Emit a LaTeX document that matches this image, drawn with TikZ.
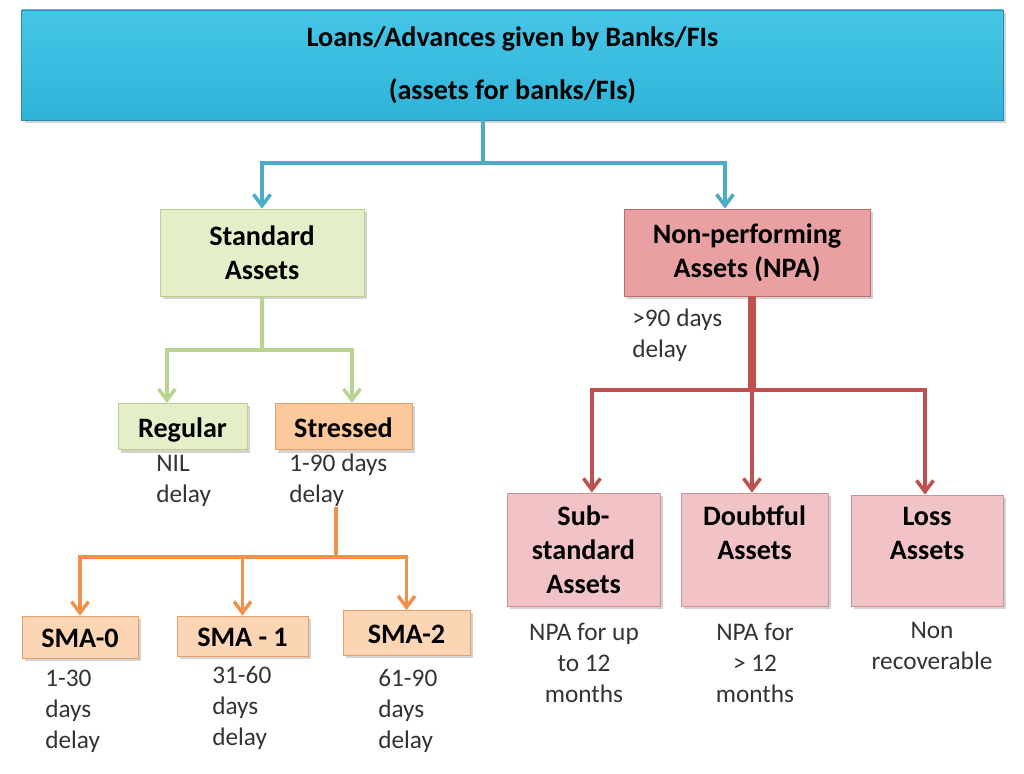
\documentclass[tikz,border=0pt]{standalone}
\usepackage{fontspec}
\setmainfont{Carlito}
\usetikzlibrary{arrows.meta,shadows}
\definecolor{topblue}{HTML}{2FB3D8}
\definecolor{topbluelight}{HTML}{45C6E8}
\definecolor{topedge}{HTML}{2A8CAA}
\definecolor{bluelink}{HTML}{4BACC6}
\definecolor{stdgreen}{HTML}{E4EFC9}
\definecolor{stdedge}{HTML}{B9CF8A}
\definecolor{greenlink}{HTML}{B8D48E}
\definecolor{npared}{HTML}{E8A0A2}
\definecolor{npaedge}{HTML}{C06A6C}
\definecolor{subpink}{HTML}{F2C3C6}
\definecolor{subedge}{HTML}{CC9296}
\definecolor{redlink}{HTML}{C0504D}
\definecolor{stressorange}{HTML}{FBC99B}
\definecolor{smaorange}{HTML}{FCD6B4}
\definecolor{orangeedge}{HTML}{E3A06A}
\definecolor{orangelink}{HTML}{F0904A}
\definecolor{notegray}{HTML}{333333}

\begin{document}
\begin{tikzpicture}[x=0.025cm,y=-0.025cm,
    box/.style={draw, rectangle, align=center, inner sep=0pt,
      font=\bfseries\fontsize{20}{24}\selectfont,
      drop shadow={opacity=0.35,shadow xshift=2pt,shadow yshift=-2pt}},
    oneline/.style={text height=1.6em, text depth=0.1em},
    note/.style={inner sep=0pt, text=notegray, font=\fontsize{18}{22}\selectfont},
    tip/.style={-{Straight Barb[length=8pt,width=12pt]}},
    bluelink/.style={draw=bluelink, line width=2.5pt},
    greenlink/.style={draw=greenlink, line width=2.5pt},
    orangelink/.style={draw=orangelink, line width=2.5pt},
    redlink/.style={draw=redlink, line width=2.5pt}]
        \useasboundingbox (0,0) rectangle (1024,774);
        % boxes
        \node[box, draw=topedge, top color=topbluelight, bottom color=topblue,
              minimum width=24.53cm, minimum height=2.75cm,
              font=\bfseries\fontsize{20}{38}\selectfont]
              (loans) at (512.5,65) {Loans/Advances given by Banks/FIs\\(assets for banks/FIs)};
        \node[box, draw=stdedge, fill=stdgreen, minimum width=5.1cm, minimum height=2.18cm]
              (std) at (262,252.5) {Standard\\Assets};
        \node[box, draw=npaedge, fill=npared, minimum width=6.15cm, minimum height=2.18cm]
              (npa) at (747,252.5) {Non-performing\\Assets (NPA)};
        \node[box, oneline, draw=stdedge, fill=stdgreen, minimum width=3.23cm, minimum height=1.16cm]
              (regular) at (182.5,426.5) {Regular};
        \node[box, oneline, draw=orangeedge, fill=stressorange, minimum width=3.43cm, minimum height=1.16cm]
              (stressed) at (343.5,426.5) {Stressed};
        \node[box, oneline, draw=orangeedge, fill=smaorange, minimum width=2.9cm, minimum height=1.05cm]
              (sma0) at (80,637) {SMA-0};
        \node[box, oneline, draw=orangeedge, fill=smaorange, minimum width=3.28cm, minimum height=1cm]
              (sma1) at (242.5,636) {SMA - 1};
        \node[box, oneline, draw=orangeedge, fill=smaorange, minimum width=3.18cm, minimum height=1.13cm]
              (sma2) at (406.5,633) {SMA-2};
        \node[box, draw=subedge, fill=subpink, minimum width=3.83cm, minimum height=2.83cm]
              (sub) at (583.5,549.5) {Sub-\\standard\\Assets};
        \node[box, draw=subedge, fill=subpink, minimum width=3.68cm, minimum height=2.83cm]
              (doubt) at (754.5,549.5) {Doubtful\\Assets\\~};
        \node[box, draw=subedge, fill=subpink, minimum width=3.8cm, minimum height=2.78cm]
              (loss) at (927,550.5) {Loss\\Assets\\~};
        % notes
        \node[note, anchor=west, align=left] (npanote) at (632,335) {>90 days\\delay};
        \node[note, anchor=west, align=left] (regnote) at (156,480.5) {NIL\\delay};
        \node[note, anchor=west, align=left] (stressnote) at (289,480.5) {1-90 days\\delay};
        \node[note, anchor=west, align=left] (sma0note) at (45,711) {1-30\\days\\delay};
        \node[note, anchor=west, align=left] (sma1note) at (212,708) {31-60\\days\\delay};
        \node[note, anchor=west, align=left] (sma2note) at (378,711) {61-90\\days\\delay};
        \node[note, align=center] (subnote) at (584,663) {NPA for up\\to 12\\months};
        \node[note, align=center] (doubtnote) at (755,663) {NPA for\\> 12\\months};
        \node[note, align=center] (lossnote) at (932,645.5) {Non\\recoverable};
        % links
        \coordinate (bluejoin) at (483,163);
        \draw[bluelink, tip] (bluejoin |- loans.south) -- (bluejoin) -| (std.north);
        \draw[bluelink, tip] (bluejoin) -| ([xshift=-0.55cm]npa.north);
        \coordinate (greenjoin) at (262,350);
        \draw[greenlink, tip] (std.south) -- (greenjoin) -| ([xshift=-0.39cm]regular.north);
        \draw[greenlink, tip] (greenjoin) -| ([xshift=0.21cm]stressed.north);
        \coordinate (orangejoin) at (336,557);
        \draw[orangelink, tip] (orangejoin |- stressnote.south) -- (orangejoin) -| (sma0.north);
        \draw[orangelink, tip] (orangejoin) -| (sma1.north);
        \draw[orangelink, tip] (orangejoin) -| (sma2.north);
        \coordinate (redjoin) at (752,390);
        \draw[redlink, line width=5pt] (redjoin |- npa.south) -- (redjoin);
        \draw[redlink, tip] (redjoin) -| ([xshift=0.21cm]sub.north);
        \draw[redlink, tip] (redjoin) -- (redjoin |- doubt.north);
        \draw[redlink, tip] (redjoin) -| ([xshift=-0.05cm]loss.north);
    \end{tikzpicture}
\end{document}
